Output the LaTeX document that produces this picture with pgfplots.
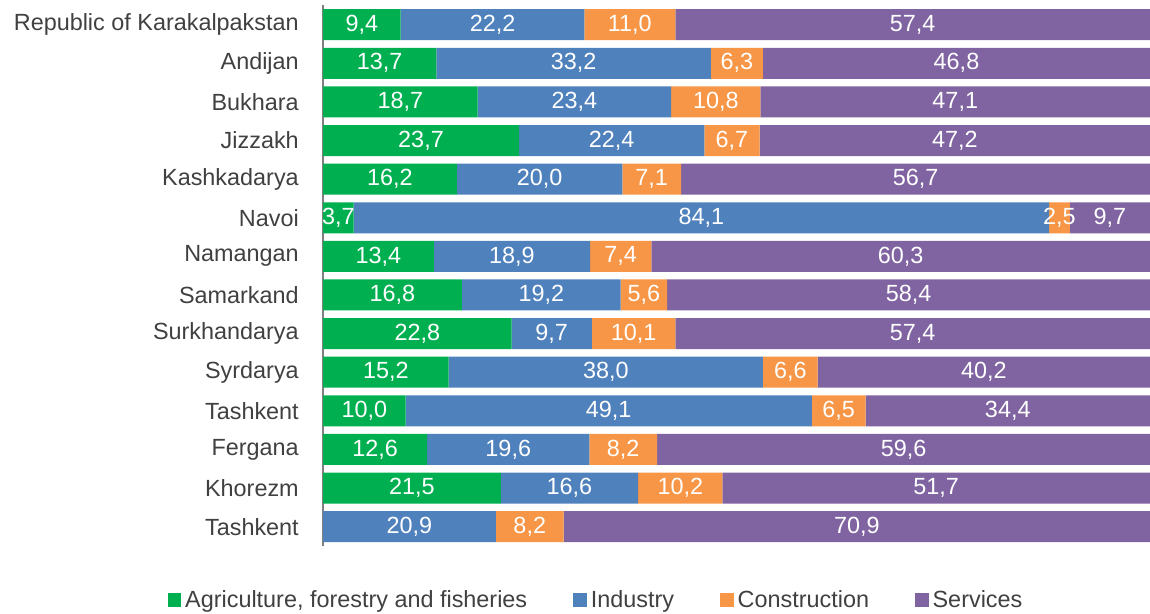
\documentclass[border=0pt]{standalone}
\usepackage{pgfplots}
\usepackage{pgfplotstable}
\pgfplotsset{compat=1.18}
\usepackage{fontspec}
\setmainfont{Liberation Sans}
\definecolor{cagri}{HTML}{00B050}
\definecolor{cind}{HTML}{4F81BD}
\definecolor{ccon}{HTML}{F79646}
\definecolor{cser}{HTML}{8064A2}
\definecolor{textgray}{HTML}{404040}
\definecolor{axisgray}{HTML}{808080}
\pgfplotstableread{
row a i c s
0 9.4 22.2 11.0 57.4
1 13.7 33.2 6.3 46.8
2 18.7 23.4 10.8 47.1
3 23.7 22.4 6.7 47.2
4 16.2 20.0 7.1 56.7
5 3.7 84.1 2.5 9.7
6 13.4 18.9 7.4 60.3
7 16.8 19.2 5.6 58.4
8 22.8 9.7 10.1 57.4
9 15.2 38.0 6.6 40.2
10 10.0 49.1 6.5 34.4
11 12.6 19.6 8.2 59.6
12 21.5 16.6 10.2 51.7
13 0 20.9 8.2 70.9
}\data
\newcommand\seg[2]{\addplot[fill=#2, draw=none] table[x=#1,y=row]{\data};}
\pgfplotsset{geom/.style={
  at={(161.5pt,34pt)}, anchor=south west,
  scale only axis, width=413.5pt, height=270.7pt,
  xmin=0, xmax=100,
  ymin=-0.52, ymax=13.5, y dir=reverse}}
\begin{document}
\begin{tikzpicture}
\useasboundingbox (0,0) rectangle (575pt,307pt);
\begin{axis}[
  geom,
  xbar stacked, bar width=15.5pt,
  axis x line=none, axis y line*=left,
  y axis line style={draw=axisgray, line width=0.75pt},
  ytick={0,...,13},
  yticklabels={Republic of Karakalpakstan,Andijan,Bukhara,Jizzakh,Kashkadarya,Navoi,Namangan,Samarkand,Surkhandarya,Syrdarya,Tashkent,Fergana,Khorezm,Tashkent},
  major tick length=0pt,
  yticklabel style={font=\fontsize{11.7pt}{13pt}\selectfont, text=textgray, xshift=-8.6pt},
  legend image code/.code={\fill[#1] (-1.2pt,-3.4pt) rectangle (5.6pt,3.4pt);},
  legend style={at={(0.3313,-0.0998)}, anchor=center, draw=none, fill=none, legend columns=4,
    font=\fontsize{11.7pt}{13pt}\selectfont, text=textgray,
    /tikz/every even column/.append style={column sep=21pt}},
]
\addlegendimage{fill=cagri, draw=none}
\addlegendimage{fill=cind, draw=none}
\addlegendimage{fill=ccon, draw=none}
\addlegendimage{fill=cser, draw=none}
\seg{a}{cagri}
\seg{i}{cind}
\seg{c}{ccon}
\seg{s}{cser}
\legend{{Agriculture, forestry and fisheries},Industry,Construction,Services}
\end{axis}
\begin{axis}[
  geom, hide axis,
  point meta=explicit,
  /pgf/number format/assume math mode=true,
  nodes near coords={\pgfmathprintnumber[fixed,fixed zerofill,precision=1,use comma,assume math mode=true]{\pgfplotspointmeta}},
  nodes near coords align={center},
  every node near coord/.append style={anchor=center, text=white, font=\fontsize{11.7pt}{13pt}\selectfont, inner sep=0pt},
]
\addplot[only marks, mark=none, restrict expr to domain={\thisrow{a}}{0.01:1000}] table[x expr=\thisrow{a}/2, y=row, meta=a]{\data};
\addplot[only marks, mark=none] table[x expr=\thisrow{a}+\thisrow{i}/2, y=row, meta=i]{\data};
\addplot[only marks, mark=none] table[x expr=\thisrow{a}+\thisrow{i}+\thisrow{c}/2, y=row, meta=c]{\data};
\addplot[only marks, mark=none] table[x expr=\thisrow{a}+\thisrow{i}+\thisrow{c}+\thisrow{s}/2, y=row, meta=s]{\data};
\end{axis}
\end{tikzpicture}
\end{document}
